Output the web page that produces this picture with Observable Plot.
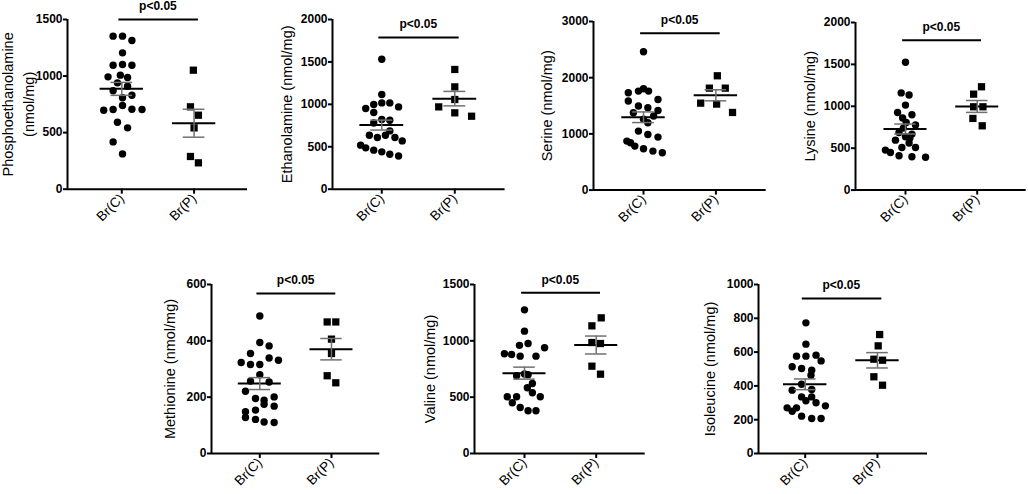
<!DOCTYPE html>
<html><head><meta charset="utf-8">
<script src="https://cdn.jsdelivr.net/npm/d3@7"></script>
<script src="https://cdn.jsdelivr.net/npm/@observablehq/plot@0.6"></script>
<style>
html,body{margin:0;padding:0;background:#fff;}
#fig{position:relative;width:1028px;height:494px;overflow:hidden;background:#fff;}
.panel{position:absolute;}
.panel svg{max-width:none;overflow:visible;background:transparent;display:block;}
</style></head><body><div id="fig"></div>
<script>
const groups = ["Br(C)", "Br(P)"];
const pLabel = "p<0.05";

// Phosphoethanolamine
const phosC  = [1353,1353,1314,1205,1096,1102,1096,993,1008,987,940,910,870,831,808,740,698,704,707,704,592,542,418,312];
const phosCJ = [-0.12,0.01,0.14,0.01,-0.12,0.01,0.14,-0.19,-0.02,0.08,-0.06,0.08,-0.12,0.14,0.01,0.01,-0.25,-0.12,0.14,0.28,-0.06,0.08,-0.12,0.01];
const phosP  = [1052,728,654,542,289,233];
const phosPJ = [-0.01,-0.05,0.06,0,-0.05,0.06];

// Ethanolamine
const ethC  = [1532,1116,1017,1017,998,970,951,904,821,813,781,687,636,609,636,609,569,519,487,460,440,412,392];
const ethCJ = [0,0,0,0.11,-0.11,0.23,-0.22,-0.11,0,0.11,-0.11,0.11,-0.17,-0.06,0.05,0.18,0.28,-0.29,-0.22,-0.11,0,0.11,0.23];
const ethP  = [1411,1206,1057,970,900,860];
const ethPJ = [0,0,0,-0.22,0,0.23];

// Serine
const serC  = [2461,1731,1761,1802,1761,1584,1612,1495,1464,1375,1416,1317,1260,1197,1050,989,943,872,842,783,735,694,664];
const serCJ = [0,-0.21,-0.07,0,0.07,-0.21,0.2,-0.07,0.06,-0.14,0.2,0.14,0,0.06,-0.07,0.06,0.2,-0.23,-0.18,-0.12,0,0.13,0.26];
const serP  = [2034,1814,1814,1547,1530,1381];
const serPJ = [0.02,-0.09,0.13,-0.21,0.01,0.23];

// Lysine
const lysC  = [1525,1160,1134,1014,926,899,860,807,776,740,688,668,636,620,596,561,509,509,477,449,409,397,392];
const lysCJ = [0,-0.06,0.05,0,-0.11,0.09,-0.04,0.01,0.14,-0.03,-0.09,0.09,0,0.06,-0.14,0.05,-0.05,0.14,-0.28,-0.21,-0.09,0.09,0.28];
const lysP  = [1233,1145,994,994,855,767];
const lysPJ = [0.06,-0.05,0.08,-0.05,-0.06,0.07];

// Methionine
const metC  = [488,394,382,355,339,331,323,316,316,280,257,254,221,195,189,201,175,168,154,148,128,121,112,110];
const metCJ = [0,0,0.13,-0.13,0.13,0.26,-0.26,-0.13,0,0,-0.13,0.13,-0.2,-0.06,0.06,0.2,0.06,0.2,-0.06,-0.2,-0.2,-0.06,0.06,0.2];
const metP  = [467,467,406,355,276,251];
const metPJ = [-0.06,0.06,0,0,-0.06,0.06];

// Valine
const valC  = [1275,1086,960,976,938,885,879,864,864,690,705,700,621,583,539,503,503,503,450,408,379,379];
const valCJ = [0,0,-0.07,0.05,0.28,-0.28,-0.18,-0.06,0.16,-0.11,0,0.05,0.11,0.04,0.11,-0.24,-0.11,0.22,-0.17,-0.06,0.05,0.16];
const valP  = [1204,1133,985,976,775,704];
const valPJ = [0.07,-0.06,-0.06,0.06,-0.06,0.06];

// Isoleucine
const ileC  = [773,647,576,576,582,548,513,503,493,463,410,375,379,335,335,300,312,282,270,270,250,221,207,207];
const ileCJ = [0.01,0.01,-0.12,0.01,0.15,0.22,-0.18,-0.05,0.09,0.08,-0.05,-0.18,0.09,-0.05,0.09,0.15,0.01,0.28,-0.25,-0.12,-0.18,-0.05,0.09,0.22];
const ileP  = [704,637,552,558,454,404];
const ilePJ = [0.03,0.01,0.07,-0.05,-0.05,0.07];

const titles = ["Phosphoethanolamine\n(nmol/mg)", "Ethanolamine (nmol/mg)", "Serine (nmol/mg)", "Lysine (nmol/mg)",
                "Methionine (nmol/mg)", "Valine (nmol/mg)", "Isoleucine (nmol/mg)"];
const yTicks = [[0,500,1000,1500],[0,500,1000,1500,2000],[0,1000,2000,3000],[0,500,1000,1500,2000],
                [0,200,400,600],[0,500,1000,1500],[0,200,400,600,800,1000]];
const sigLevels = [1500, 1788, 2793, 1789, 568, 1426, 917];

const series = [
  [phosC, phosCJ, phosP, phosPJ], [ethC, ethCJ, ethP, ethPJ], [serC, serCJ, serP, serPJ], [lysC, lysCJ, lysP, lysPJ],
  [metC, metCJ, metP, metPJ], [valC, valCJ, valP, valPJ], [ileC, ileCJ, ileP, ilePJ]
];

// layout (pixel geometry of each panel frame)
const layout = [
  {ax: 66.7, right: 246.7, top: 19.3, bottom: 189, xDom: [0.249, 2.739], tdx: -50.5},
  {ax: 331.7, right: 504.3, top: 19.3, bottom: 189, xDom: [0.325, 2.689], tdx: -47},
  {ax: 593.3, right: 766, top: 20.7, bottom: 189.3, xDom: [0.309, 2.695], tdx: -48.3},
  {ax: 855, right: 1025.7, top: 21.7, bottom: 189.3, xDom: [0.303, 2.683], tdx: -47},
  {ax: 211, right: 379.3, top: 284.3, bottom: 453.3, xDom: [0.326, 2.674], tdx: -43},
  {ax: 474.3, right: 645, top: 284.3, bottom: 453.3, xDom: [0.303, 2.683], tdx: -46.5},
  {ax: 758.3, right: 927.3, top: 284.3, bottom: 453.3, xDom: [0.354, 2.692], tdx: -50}
];

const fig = document.getElementById("fig");
const font = "'Liberation Sans', Arial, Helvetica, sans-serif";

series.forEach(([cv, cj, pv, pj], k) => {
  const L = layout[k];
  const mL = 64, mR = 6, mT = 24, mB = 50;
  const fw = L.right - L.ax, fh = L.bottom - L.top;
  const rowsC = cv.map((v, i) => ({g: 1, x: 1 + cj[i], y: v}));
  const rowsP = pv.map((v, i) => ({g: 2, x: 2 + pj[i], y: v}));
  const stats = [rowsC, rowsP].map((rows, i) => {
    const vals = rows.map(d => d.y);
    const m = d3.mean(vals), se = d3.deviation(vals) / Math.sqrt(vals.length);
    return {g: i + 1, m, lo: m - se, hi: m + se};
  });
  const yMax = yTicks[k][yTicks[k].length - 1];
  const semColor = "#707070";
  const plot = Plot.plot({
    width: mL + fw + mR, height: mT + fh + mB,
    marginLeft: mL, marginRight: mR, marginTop: mT, marginBottom: mB,
    x: {domain: L.xDom, label: null},
    y: {domain: [0, yMax], label: null},
    style: {fontFamily: font, background: "transparent", overflow: "visible", color: "black"},
    marks: [
      Plot.dot(rowsC, {x: "x", y: "y", r: 3.7, fill: "black", symbol: "circle"}),
      Plot.dot(rowsP, {x: "x", y: "y", r: 4.1, fill: "black", symbol: "square"}),
      Plot.ruleY(stats, {y: "m", x1: d => d.g - 0.3, x2: d => d.g + 0.3, stroke: "black", strokeWidth: 2}),
      Plot.ruleX(stats, {x: "g", y1: "lo", y2: "hi", stroke: semColor, strokeWidth: 1.5}),
      Plot.ruleY(stats, {y: "lo", x1: d => d.g - 0.15, x2: d => d.g + 0.15, stroke: semColor, strokeWidth: 1.5}),
      Plot.ruleY(stats, {y: "hi", x1: d => d.g - 0.15, x2: d => d.g + 0.15, stroke: semColor, strokeWidth: 1.5}),
      Plot.ruleX([L.xDom[0]], {stroke: "black", strokeWidth: 2}),
      Plot.ruleY([0], {stroke: "black", strokeWidth: 2}),
      Plot.axisY(yTicks[k], {tickSize: 4, tickPadding: 1, tickFormat: d3.format("d"), fontSize: 12, fontWeight: "bold", strokeWidth: 2, label: null}),
      Plot.axisX([1, 2], {tickSize: 5, tickPadding: 2, tickFormat: d => groups[d - 1], tickRotate: -45, fontSize: 13.5, strokeWidth: 2, label: null}),
      Plot.ruleY([sigLevels[k]], {x1: 0.96, x2: 2.06, stroke: "black", strokeWidth: 2}),
      Plot.text([pLabel], {x: 1.5, y: sigLevels[k], dy: -13, text: d => d, fontSize: 12, fontWeight: "bold", fill: "black"}),
      Plot.text([titles[k]], {frameAnchor: "left", textAnchor: "middle", lineAnchor: "middle", rotate: -90, dx: L.tdx, text: d => d, fontSize: 14.5, lineHeight: 1.4, fill: "black"})
    ]
  });
  const div = document.createElement("div");
  div.className = "panel";
  div.style.left = (L.ax - mL) + "px";
  div.style.top = (L.top - mT) + "px";
  div.appendChild(plot);
  fig.appendChild(div);
});
</script>
</body></html>
